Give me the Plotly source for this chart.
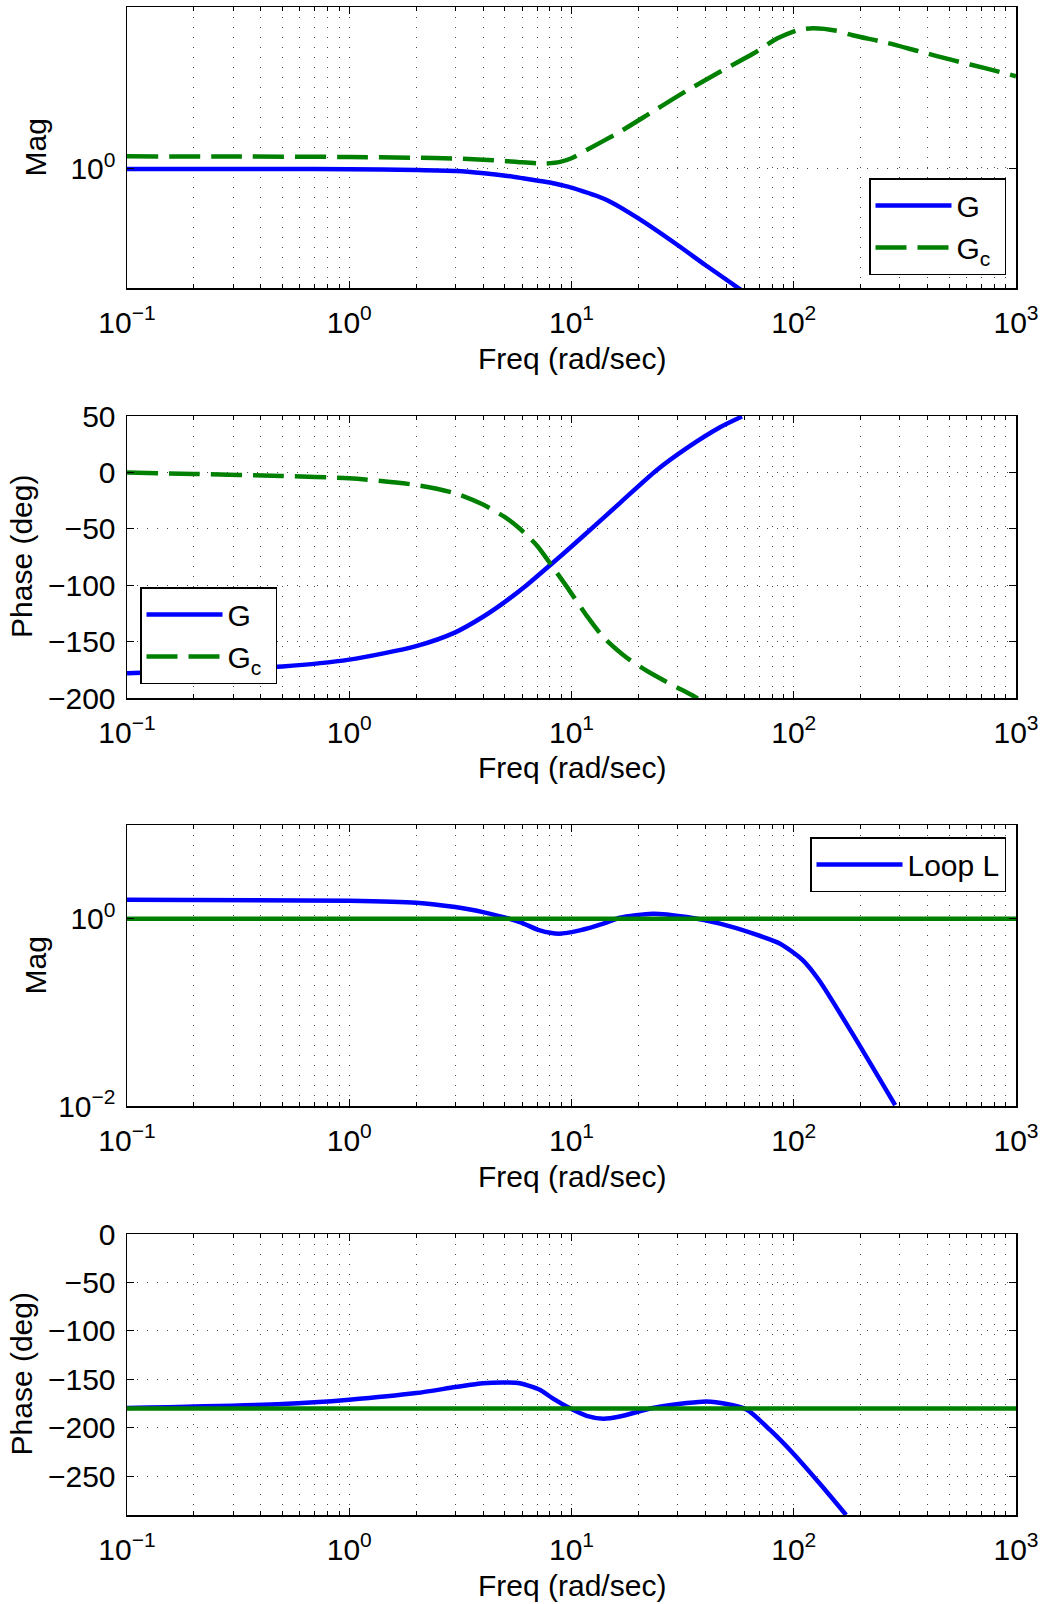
import plotly.graph_objects as go

# ---------------------------------------------------------------------------
# Frequency response samples (frequency in rad/sec)
# ---------------------------------------------------------------------------
# Plant G: magnitude
w_G_mag = [0.1, 0.5, 1, 2, 3.04, 4.04, 5.05, 6.04, 7.1, 8.1, 9.1, 10, 14.4, 20, 30, 40, 50, 60]
G_mag = [1.0, 0.998, 0.99, 0.964, 0.929, 0.855, 0.783, 0.713, 0.653, 0.607, 0.552,
         0.506, 0.323, 0.165, 0.0625, 0.0301, 0.0174, 0.0111]

# Controller Gc: magnitude
w_Gc_mag = [0.1, 0.3, 1, 2, 3, 4, 5, 6, 7, 7.7, 8.9, 10, 11.7, 16.5, 23.2, 33, 46.6,
            65.8, 84.5, 104, 122, 156, 184, 262, 370, 525, 740, 1000]
Gc_mag = [1.585, 1.578, 1.549, 1.507, 1.466, 1.396, 1.343, 1.274, 1.230, 1.225, 1.294,
          1.479, 1.995, 3.89, 8.13, 17.4, 34.7, 67.6, 117.5, 158.5, 169.8, 154.9,
          131.8, 100.0, 72.4, 52.5, 38.9, 29.5]

# Plant G: phase (deg)
w_G_ph = [0.1, 0.5, 1, 2, 3, 4, 5, 6.28, 8.2, 10, 12.7, 16.5, 24, 33, 46.6, 58.5]
G_ph = [-178, -172, -166, -154, -141.8, -128, -115, -100, -80.5, -65.7, -47.4, -27.2,
        1.5, 21.5, 40.0, 49.5]

# Controller Gc: phase (deg)
w_Gc_ph = [0.1, 0.2, 0.5, 1, 2, 3, 4, 5, 5.86, 7.0, 8.2, 9.5, 11.7, 13.9, 17.8, 23.2,
           35.8, 37]
Gc_ph = [0, -1.4, -3.2, -5.2, -11.2, -18.5, -28.5, -39.5, -50, -65, -83.4, -101, -127,
         -146, -164.5, -179, -198.8, -200.5]

# Loop L = G*Gc: magnitude
w_L_mag = [0.1, 1, 2, 3, 4, 5.86, 7.2, 8.8, 10.9, 13.9, 16.5, 23.2, 33, 46.6, 65.8,
           86.8, 110, 130, 184, 286]
L_mag = [1.596, 1.556, 1.483, 1.330, 1.175, 0.920, 0.750, 0.692, 0.750, 0.885, 1.023,
         1.130, 1.040, 0.885, 0.692, 0.541, 0.359, 0.220, 0.0589, 0.0102]

# Loop L: phase (deg)
w_L_ph = [0.1, 0.5, 1, 2, 3, 4, 5.1, 5.86, 7.2, 8.2, 9.8, 11.7, 13.9, 16.5, 23.2, 33,
          40.5, 49.9, 61.6, 78, 99, 130, 172]
L_ph = [-179.6, -175.5, -171, -164.2, -158, -154, -153.3, -154, -160.8, -169.4, -179.6,
        -187.6, -190.6, -188.3, -179.6, -174.5, -172.8, -175.5, -181.4, -202, -226,
        -256.8, -290]

# Reference levels: unity gain and -180 deg
w_ref = [0.1, 1000]
mag_ref = [1, 1]
ph_ref = [-180, -180]

# Axis tick labels
freq_ticks = [0.1, 1, 10, 100, 1000]
freq_ticktext = ["10<sup>\u22121</sup>", "10<sup>0</sup>", "10<sup>1</sup>",
                 "10<sup>2</sup>", "10<sup>3</sup>"]
freq_minor = [k * 10.0 ** e for e in range(-1, 3) for k in range(2, 10)]

# ---------------------------------------------------------------------------
# Styling
# ---------------------------------------------------------------------------
W, H = 1047, 1604
FONT = "Liberation Sans, Arial, Helvetica, sans-serif"
BLUE = "rgb(0,0,255)"
GREEN = "rgb(0,128,0)"
LW = 4.5
DASH = "31px,11px"
GRID = "#4a4a4a"
GDASH = "1px,9px"
NB = "\u00a0"

x0, x1 = 127 / W, 1016 / W
rows_px = [(7, 288), (416, 698), (825, 1106), (1234, 1515)]
ydom = [[1 - b / H, 1 - t / H] for (t, b) in rows_px]

fig = go.Figure()


def line(x, y, color, dash, name, n, legend=None, showlegend=True):
    fig.add_trace(go.Scatter(
        x=x, y=y, mode="lines", name=name,
        line=dict(color=color, width=LW, dash=dash, shape="spline", smoothing=0.7),
        xaxis="x" if n == 1 else f"x{n}", yaxis="y" if n == 1 else f"y{n}",
        legend=legend, showlegend=showlegend, hoverinfo="skip",
    ))


# Panel 1: magnitude of G and Gc
line(w_G_mag, G_mag, BLUE, "solid", "G", 1, "legend")
line(w_Gc_mag, Gc_mag, GREEN, DASH, "G<sub>c</sub>" + NB, 1, "legend")
# Panel 2: phase of G and Gc
line(w_G_ph, G_ph, BLUE, "solid", "G", 2, "legend2")
line(w_Gc_ph, Gc_ph, GREEN, DASH, "G<sub>c</sub>" + NB, 2, "legend2")
# Panel 3: loop magnitude with unity line
line(w_L_mag, L_mag, BLUE, "solid", "Loop L", 3, "legend3")
line(w_ref, mag_ref, GREEN, "solid", "1", 3, "legend3", showlegend=False)
# Panel 4: loop phase with -180 line
line(w_L_ph, L_ph, BLUE, "solid", "Loop L", 4, showlegend=False)
line(w_ref, ph_ref, GREEN, "solid", "-180", 4, showlegend=False)

tickfont = dict(family=FONT, size=30, color="black")

common_x = dict(
    type="log", range=[-1, 3], domain=[x0, x1], automargin=False,
    tickmode="array", tickvals=freq_ticks, ticktext=freq_ticktext,
    ticks="inside", ticklen=7, tickwidth=1, tickcolor="black",
    showline=True, linecolor="black", linewidth=1.5, mirror="ticks",
    showgrid=True, gridcolor=GRID, gridwidth=1, griddash=GDASH,
    minor=dict(tickmode="array", tickvals=freq_minor, ticks="inside", ticklen=4,
               tickcolor="black", showgrid=True, gridcolor=GRID, gridwidth=1,
               griddash=GDASH),
    zeroline=False, tickfont=tickfont, ticklabelstandoff=7, fixedrange=True,
)
common_y = dict(
    automargin=False,
    ticks="inside", ticklen=7, tickwidth=1, tickcolor="black",
    showline=True, linecolor="black", linewidth=1.5, mirror="ticks",
    showgrid=True, gridcolor=GRID, gridwidth=1, griddash=GDASH,
    zeroline=False, tickfont=tickfont, ticklabelstandoff=4, fixedrange=True,
)

axes = {}
y_specs = [
    dict(type="log", range=[-1.886, 2.567], tickmode="array", tickvals=[1],
         ticktext=["10<sup>0</sup>"]),
    dict(range=[-200, 50], tickmode="array", tickvals=[-200, -150, -100, -50, 0, 50]),
    dict(type="log", range=[-2, 1], tickmode="array", tickvals=[0.01, 1],
         ticktext=["10<sup>\u22122</sup>", "10<sup>0</sup>"]),
    dict(range=[-290, 0], tickmode="array", tickvals=[-250, -200, -150, -100, -50, 0]),
]
for i in range(4):
    n = i + 1
    xk = "xaxis" if n == 1 else f"xaxis{n}"
    yk = "yaxis" if n == 1 else f"yaxis{n}"
    axes[xk] = dict(common_x, anchor="y" if n == 1 else f"y{n}")
    axes[yk] = dict(common_y, domain=ydom[i], anchor="x" if n == 1 else f"x{n}",
                    **y_specs[i])

# Axis titles as text placed beside each panel
annotations = []
ytitles = ["Mag", "Phase (deg)", "Mag", "Phase (deg)"]
ytitle_x = [35, 21, 35, 21]
for i, (t, b) in enumerate(rows_px):
    annotations.append(dict(
        text="Freq (rad/sec)", xref="paper", yref="paper",
        x=(x0 + x1) / 2, y=1 - (b + 70) / H, xanchor="center", yanchor="middle",
        showarrow=False, font=dict(family=FONT, size=30, color="black")))
    annotations.append(dict(
        text=ytitles[i], xref="paper", yref="paper", textangle=-90,
        x=ytitle_x[i] / W, y=1 - (t + b) / 2 / H, xanchor="center", yanchor="middle",
        showarrow=False, font=dict(family=FONT, size=30, color="black")))

legend_style = dict(
    bgcolor="white", bordercolor="black", borderwidth=1.5,
    font=dict(family=FONT, size=30, color="black"),
    itemwidth=76, tracegroupgap=0, itemclick=False, itemdoubleclick=False,
)

fig.update_layout(
    width=W, height=H, autosize=False,
    margin=dict(l=0, r=0, t=0, b=0, autoexpand=False),
    paper_bgcolor="white", plot_bgcolor="white",
    font=dict(family=FONT, size=30, color="black"),
    showlegend=True,
    annotations=annotations,
    legend=dict(legend_style, x=1006 / W, xanchor="right", y=1 - 178 / H, yanchor="top"),
    legend2=dict(legend_style, x=140 / W, xanchor="left", y=1 - 587 / H, yanchor="top"),
    legend3=dict(legend_style, itemwidth=86, x=1006 / W, xanchor="right",
                 y=1 - 837 / H, yanchor="top"),
    **axes,
)

fig.write_html("out.html", include_plotlyjs=True, config={"staticPlot": True})
